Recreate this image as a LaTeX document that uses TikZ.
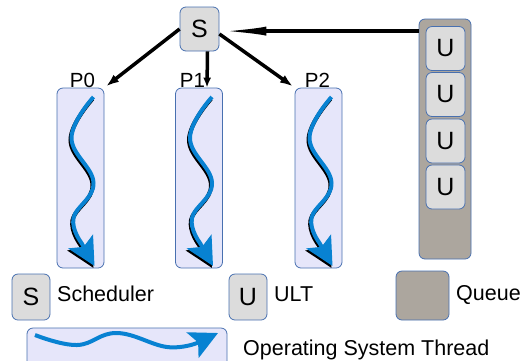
\documentclass[tikz,border=0pt]{standalone}
\usepackage{fontspec}
\setmainfont{Liberation Sans}
\usetikzlibrary{arrows.meta}
\definecolor{bord}{RGB}{72,112,176}
\definecolor{lav}{RGB}{230,230,250}
\definecolor{lgray}{RGB}{220,220,220}
\definecolor{qgray}{RGB}{172,166,158}
\definecolor{tblue}{RGB}{8,130,210}
\newcommand\osthread[1]{%
  \begin{scope}[shift={(#1,0)}]
    \draw[thr, black, shift={(-1,2)}] plot[smooth,tension=0.7] coordinates {(13,97) (-9,138) (13,183) (-7,218) (1,243)} -- (14,266);
    \draw[thr] plot[smooth,tension=0.7] coordinates {(13,97) (-9,138) (13,183) (-7,218) (1,243)} -- (14,266);
  \end{scope}}
\begin{document}
\begin{tikzpicture}[x=1pt,y=-1pt,
  box/.style={draw=bord, line width=0.8pt, rounded corners=6pt, inner sep=0pt},
  gbox/.style={box, fill=lgray, minimum width=39pt, minimum height=44pt, font=\fontsize{25}{25}\selectfont},
  pbox/.style={box, fill=lav, minimum width=47pt, minimum height=180pt},
  qbox/.style={box, fill=qgray},
  conn/.style={line width=3.5pt, black},
  thr/.style={line width=4pt, tblue, -{Stealth[length=28pt,width=28pt,inset=6pt]}},
  lbl/.style={inner sep=0pt, anchor=base, font=\fontsize{20.5}{20.5}\selectfont},
  leg/.style={inner sep=0pt, anchor=base west, font=\fontsize{21.5}{21.5}\selectfont}
]
\useasboundingbox (0,0) rectangle (526,360);
\clip (0,0) rectangle (526,360);

\node[pbox] (p0) at (80.5,178) {};
\node[pbox] (p1) at (199,178) {};
\node[pbox] (p2) at (318.5,178) {};
\osthread{80.5}
\osthread{199}
\osthread{318.5}

\node[qbox, minimum width=52pt, minimum height=240pt] (q) at (445,139) {};
\foreach \i/\y in {1/48.5,2/94.5,3/141,4/187} \node[gbox] (u\i) at (445.5,\y) {U};
\node[gbox] (s) at (199.5,29) {S};

\node[lbl] (l0) at (82.5,87.3) {P0};
\node[lbl] (l1) at (192.5,87.3) {P1};
\node[lbl] (l2) at (317.5,87.3) {P2};

\draw[conn, -{Latex[length=13pt,width=9pt]}, shorten >=2pt] (s.west) -- (p0.north east);
\draw[conn, -{Latex[length=10pt,width=8pt]}] ([xshift=8pt]s.south) -- ([xshift=8pt]p1.north);
\draw[conn, -{Latex[length=13pt,width=9pt]}, shorten >=2pt] ([shift={(0,5)}]s.east) -- (p2.north west);
\coordinate (qa) at ([shift={(0,12.5)}]q.north west);
\draw[conn, -{Latex[length=47pt,width=9pt]}] (qa) -- (qa -| s.east);

\node[gbox, minimum height=46pt, minimum width=38pt] (ls) at (31,297) {S};
\node[leg] (lst) at (57,301.7) {Scheduler};
\node[gbox, minimum height=46pt, minimum width=38pt] (lu) at (248,297) {U};
\node[leg] (lut) at (274,301.7) {ULT};
\node[qbox, minimum width=53pt, minimum height=49pt] (lq) at (422.5,295.5) {};
\node[leg] (lqt) at (456,300.3) {Queue};
\node[box, fill=lav, minimum width=200pt, minimum height=44pt] (lt) at (127,350) {};
\draw[thr] plot[smooth, tension=0.7] coordinates {(35,335) (77,345) (117,333) (167,347) (197,343)} -- (218,333);
\node[leg] (ltt) at (243,355.5) {Operating System Thread};
\end{tikzpicture}
\end{document}
